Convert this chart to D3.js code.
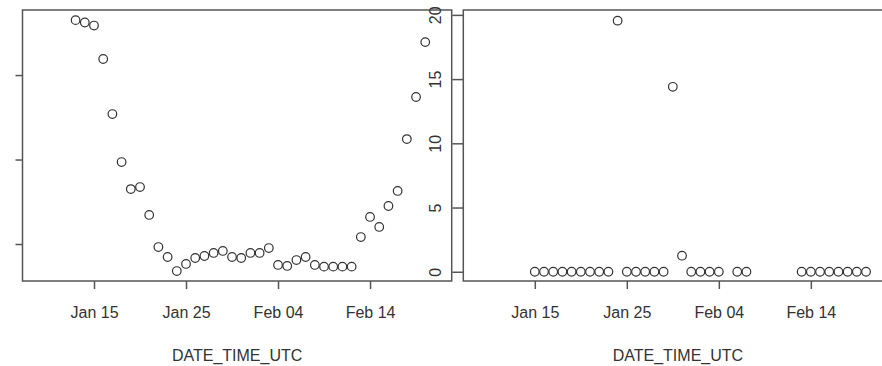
<!DOCTYPE html>
<html>
<head>
<meta charset="utf-8">
<script src="https://cdn.jsdelivr.net/npm/d3@7"></script>
<style>
	html, body { margin: 0; padding: 0; background: #fff; }
	svg { display: block; font-family: "Liberation Sans", Arial, Helvetica, sans-serif; }
</style>
</head>
<body>
<div id="chart"></div>
<script>
// daily observations, left panel (Jan 13 .. Feb 20)
const leftDates = [
	'2020-01-13', '2020-01-14', '2020-01-15', '2020-01-16', '2020-01-17', '2020-01-18', '2020-01-19',
	'2020-01-20', '2020-01-21', '2020-01-22', '2020-01-23', '2020-01-24', '2020-01-25', '2020-01-26',
	'2020-01-27', '2020-01-28', '2020-01-29', '2020-01-30', '2020-01-31', '2020-02-01', '2020-02-02',
	'2020-02-03', '2020-02-04', '2020-02-05', '2020-02-06', '2020-02-07', '2020-02-08', '2020-02-09',
	'2020-02-10', '2020-02-11', '2020-02-12', '2020-02-13', '2020-02-14', '2020-02-15', '2020-02-16',
	'2020-02-17', '2020-02-18', '2020-02-19', '2020-02-20'
];
const leftValues = [
	18.25, 18.11, 17.93, 15.95, 12.69, 9.85, 8.25,
	8.37, 6.72, 4.82, 4.23, 3.40, 3.82, 4.17,
	4.29, 4.47, 4.59, 4.23, 4.17, 4.47, 4.47,
	4.76, 3.76, 3.70, 4.05, 4.23, 3.76, 3.66,
	3.66, 3.66, 3.66, 5.41, 6.60, 6.01, 7.25,
	8.14, 11.21, 13.70, 16.95
];
// the labels of these ticks fall outside the picture, only the marks show
const leftTicks = [5, 10, 15];

// right panel, null = no observation that day
const rightDates = [
	'2020-01-15', '2020-01-16', '2020-01-17', '2020-01-18', '2020-01-19', '2020-01-20', '2020-01-21',
	'2020-01-22', '2020-01-23', '2020-01-24', '2020-01-25', '2020-01-26', '2020-01-27', '2020-01-28',
	'2020-01-29', '2020-01-30', '2020-01-31', '2020-02-01', '2020-02-02', '2020-02-03', '2020-02-04',
	'2020-02-05', '2020-02-06', '2020-02-07', '2020-02-08', '2020-02-09', '2020-02-10', '2020-02-11',
	'2020-02-12', '2020-02-13', '2020-02-14', '2020-02-15', '2020-02-16', '2020-02-17', '2020-02-18',
	'2020-02-19', '2020-02-20'
];
const rightValues = [
	0, 0, 0, 0, 0, 0, 0,
	0, 0, 19.55, 0, 0, 0, 0,
	0, 14.4, 1.25, 0, 0, 0, 0,
	null, 0, 0, null, null, null, null,
	null, 0, 0, 0, 0, 0, 0,
	0, 0
];
const rightTicks = [0, 5, 10, 15, 20];

const xTickDates = ['2020-01-15', '2020-01-25', '2020-02-04', '2020-02-14'];
const xDomain = [new Date(Date.UTC(2020, 0, 7, 5, 30)), new Date(Date.UTC(2020, 1, 22, 21, 0))];
const xTitle = 'DATE_TIME_UTC';

const width = 882;
const height = 366;
const ink = '#333';
const lineInk = '#555';

const svg = d3.select('#chart')
.append('svg')
.attr('width', width)
.attr('height', height);

function drawPanel(opts) {
	const left = opts.left;
	const right = opts.right;
	const top = 10;
	const bottom = 281;

	const x = d3.scaleUtc().domain(xDomain).range([left, right]);
	const y = d3.scaleLinear().domain(opts.yDomain).range([bottom, top]);

	const g = svg.append('g');

	const points = opts.dates
	.map( (d, i)=>({date: d3.isoParse(d + 'T00:00:00Z'), value: opts.values[i]}) )
	.filter( (p)=>p.value != null );

	g.selectAll('circle')
	.data(points)
	.enter()
	.append('circle')
	.attr('cx', (p)=>x(p.date))
	.attr('cy', (p)=>y(p.value))
	.attr('r', 4.3)
	.attr('fill', 'none')
	.attr('stroke', ink)
	.attr('stroke-width', 1.2);

	// x axis
	const xAxis = g.append('g')
	.attr('transform', `translate(0,${bottom})`)
	.call(d3.axisBottom(x)
		.tickValues(xTickDates.map( (d)=>d3.isoParse(d + 'T00:00:00Z') ))
		.tickFormat(d3.utcFormat('%b %d'))
		.tickSize(8)
		.tickPadding(18));
	xAxis.select('.domain').remove();
	xAxis.selectAll('line').attr('stroke', lineInk).attr('stroke-width', 1.5);
	xAxis.selectAll('text')
	.attr('fill', ink)
	.attr('font-size', 16)
	.attr('font-family', null);

	// y axis, R style labels parallel to the axis
	const yAxis = g.append('g')
	.attr('transform', `translate(${left},0)`)
	.call(d3.axisLeft(y)
		.tickValues(opts.yTicks)
		.tickSize(opts.yTickSize)
		.tickFormat(opts.showYLabels ? d3.format('d') : ()=>''));
	yAxis.select('.domain').remove();
	yAxis.selectAll('line').attr('stroke', lineInk).attr('stroke-width', 1.5);
	yAxis.selectAll('text')
	.attr('fill', ink)
	.attr('font-size', 16)
	.attr('font-family', null)
	.attr('x', null)
	.attr('dy', null)
	.attr('text-anchor', 'middle')
	.attr('transform', 'translate(-22,0) rotate(-90)');

	g.append('rect')
	.attr('x', left)
	.attr('y', top)
	.attr('width', right - left)
	.attr('height', bottom - top)
	.attr('fill', 'none')
	.attr('stroke', lineInk)
	.attr('stroke-width', 1.5);

	g.append('text')
	.attr('x', (left + right) / 2)
	.attr('y', 361)
	.attr('text-anchor', 'middle')
	.attr('fill', ink)
	.attr('font-size', 16)
	.text(xTitle);
}

drawPanel({
	left: 22.5, right: 451.7,
	dates: leftDates, values: leftValues,
	yDomain: [2.81, 18.85], yTicks: leftTicks, yTickSize: 7, showYLabels: false
});

drawPanel({
	left: 463.3, right: 892.5,
	dates: rightDates, values: rightValues,
	yDomain: [-0.72, 20.38], yTicks: rightTicks, yTickSize: 11, showYLabels: true
});
</script>
</body>
</html>
